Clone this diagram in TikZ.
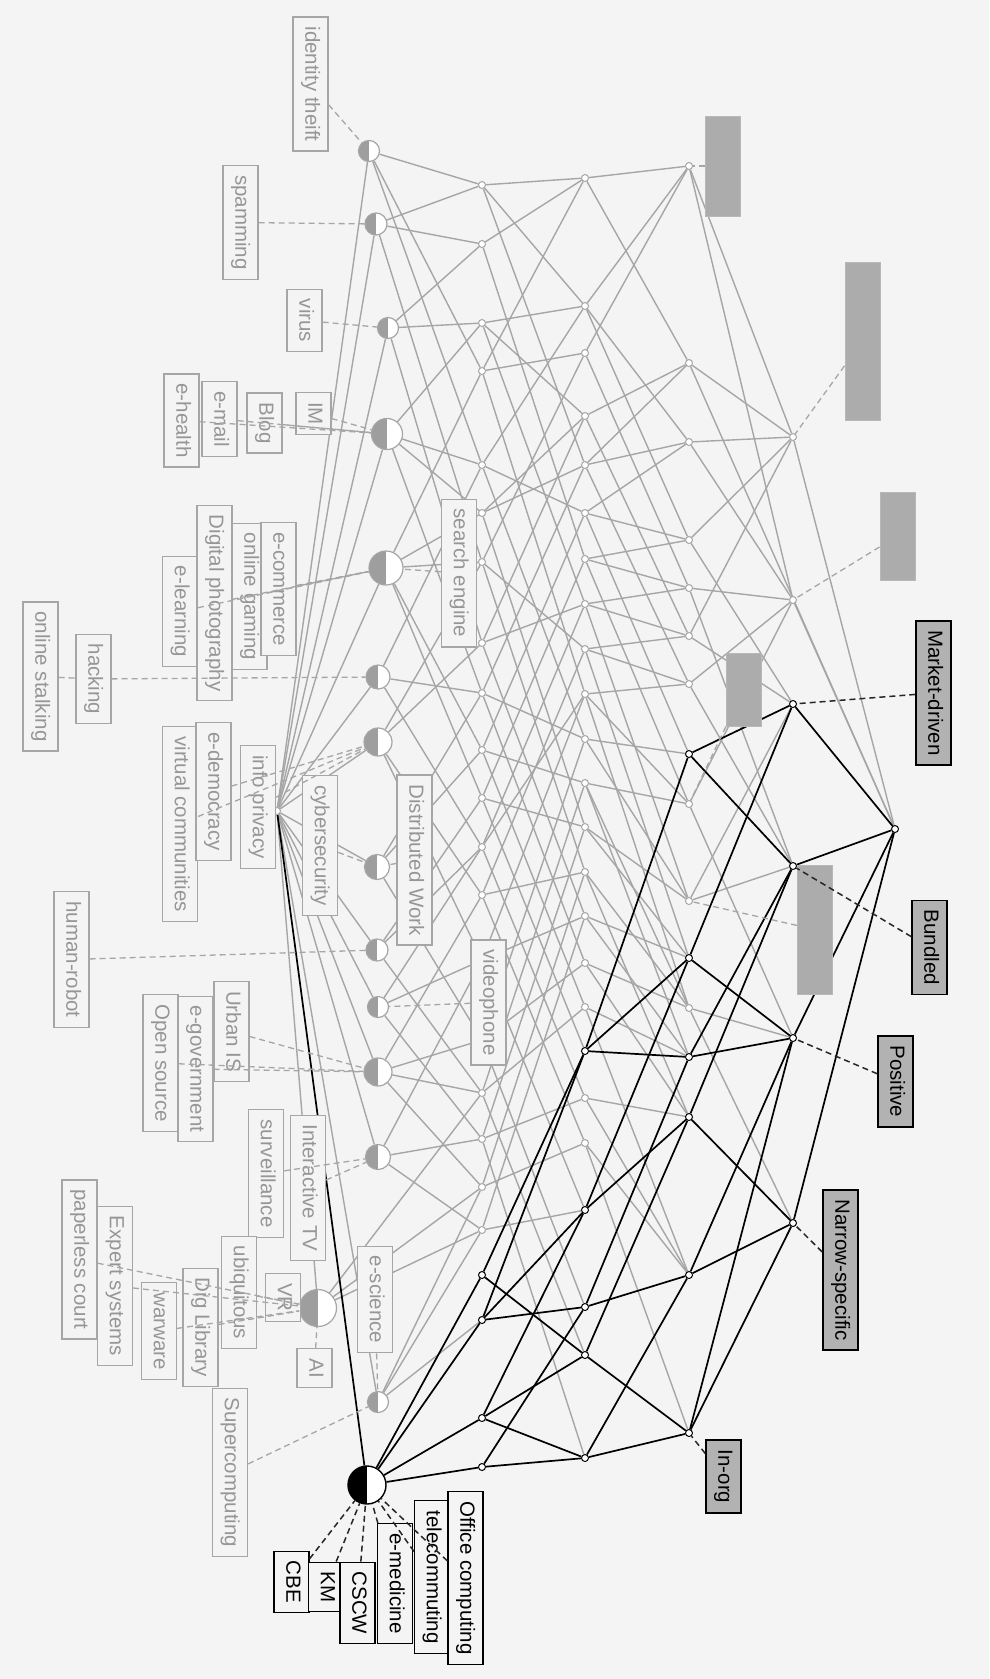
\documentclass[tikz,border=0pt]{standalone}
\usepackage{fontspec}
\newfontfamily\lfont{Liberation Sans}
\definecolor{bgc}{RGB}{244,244,244}
\definecolor{lg}{RGB}{166,166,166}
\definecolor{lt}{RGB}{150,150,150}
\definecolor{hc}{RGB}{158,158,158}
\definecolor{gbox}{RGB}{172,172,172}
\definecolor{abox}{RGB}{178,178,178}
\pgfdeclarelayer{bgl}
\pgfdeclarelayer{edges}
\pgfdeclarelayer{dash}
\pgfsetlayers{bgl,edges,main,dash}
\tikzset{
  sn/.style={circle, draw=lg, fill=white, inner sep=0pt, minimum size=7pt, line width=1pt},
  bn/.style={sn, draw=black},
  hcirc/.style={circle, draw=lg, fill=white, inner sep=0pt, line width=1.2pt,
    path picture={\fill[hc] (path picture bounding box.north west) rectangle (path picture bounding box.south);}},
  hblack/.style={circle, draw=black, fill=white, inner sep=0pt, line width=1.4pt,
    path picture={\fill[black] (path picture bounding box.north west) rectangle (path picture bounding box.south);}},
  glab/.style={draw=lg, fill=bgc, text=lt, rotate=-90, font=\lfont\fontsize{20.5pt}{24pt}\selectfont,
    inner xsep=9.5pt, inner ysep=0pt, text height=15pt, text depth=4.5pt, minimum height=35pt, line width=1.2pt},
  blab/.style={glab, draw=black, text=black},
  alab/.style={blab, fill=abox, line width=1.5pt},
  gattr/.style={draw=gbox!85!white, fill=gbox, rotate=-90, minimum height=35pt, inner sep=0pt, line width=1pt},
  ge/.style={draw=lg, line width=1.4pt},
  be/.style={draw=black, line width=1.7pt},
  gdash/.style={draw=lg, line width=1.3pt, dash pattern=on 6pt off 4pt},
  bdash/.style={draw=black!85, line width=1.5pt, dash pattern=on 6pt off 4pt}
}
\begin{document}
\begin{tikzpicture}[x=1pt,y=-1pt]
\useasboundingbox (0,0) rectangle (989,1679);
\begin{pgfonlayer}{bgl}
\fill[bgc] (0,0) rectangle (989,1679);
\end{pgfonlayer}
% object concepts
\node[sn] (T) at (277,811) {};
\node[hcirc, minimum size=21pt] (o1) at (369,151) {};
\node[hcirc, minimum size=22pt] (o2) at (376,224) {};
\node[hcirc, minimum size=21pt] (o3) at (388,328) {};
\node[hcirc, minimum size=31pt] (o4) at (387,434) {};
\node[hcirc, minimum size=34pt] (o5) at (386,568) {};
\node[hcirc, minimum size=24pt] (o6) at (378,677) {};
\node[hcirc, minimum size=28pt] (o7) at (378,742) {};
\node[hcirc, minimum size=25pt] (o8) at (377,867) {};
\node[hcirc, minimum size=22pt] (o9) at (377,950) {};
\node[hcirc, minimum size=21pt] (o10) at (378,1007) {};
\node[hcirc, minimum size=28pt] (o11) at (378,1072) {};
\node[hcirc, minimum size=25pt] (o12) at (378,1157) {};
\node[hcirc, minimum size=37pt] (o13) at (318,1308) {};
\node[hcirc, minimum size=21pt] (o14) at (378,1402) {};
\node[hblack, minimum size=38pt] (C) at (367,1485) {};
% layers
\foreach \y in {185,244,323,371,465,513,562,643,693,750,798,847,895,960,1040,1093,1139,1187,1230}
  \node[sn] (p\y) at (482,\y) {};
\foreach \y in {1275,1320,1418,1467}
  \node[bn] (a\y) at (482,\y) {};
\foreach \y in {178,306,353,416,465,513,559,604,649,694,739,783,827,872,916,963,1007,1098,1143}
  \node[sn] (q\y) at (585,\y) {};
\foreach \y in {1051,1210,1307,1355,1458}
  \node[bn] (b\y) at (585,\y) {};
\foreach \y in {166,363,442,540,588,636,684,804,901,1008}
  \node[sn] (r\y) at (689,\y) {};
\foreach \y in {754,958,1057,1117,1275,1433}
  \node[bn] (c\y) at (689,\y) {};
\foreach \y in {437,600}
  \node[sn] (s\y) at (793,\y) {};
\foreach \y in {704,866,1038,1223}
  \node[bn] (d\y) at (793,\y) {};
\node[bn] (e829) at (895,829) {};
% edges
\begin{pgfonlayer}{edges}
\foreach \a/\b in {T/o1,T/o2,T/o3,T/o4,T/o5,T/o6,T/o7,T/o8,T/o9,T/o10,T/o11,T/o12,T/o13,T/o14,
 o1/p185,o1/p371,o1/p465, o2/p185,o2/p244,o2/p562, o3/p244,o3/p323,o3/p643,
 o4/p323,o4/p465,o4/p513,o4/p693, o5/p371,o5/p513,o5/p562,o5/p750,o5/p798,
 o6/p465,o6/p693,o6/p847, o7/p562,o7/p643,o7/p895,o7/p960, o8/p693,o8/p750,o8/p1040,
 o9/p798,o9/p847,o9/p1093, o10/p847,o10/p960,o10/p1139, o11/p895,o11/p1040,o11/p1093,o11/p1187,
 o12/p960,o12/p1139,o12/p1230, o13/p1093,o13/p1187,o13/p1230, o14/p1187,o14/p1230,o14/a1320,
 p185/q178,p185/q306,p185/q465, p244/q178,p244/q559, p323/q306,p323/q416,p323/q604,
 p371/q178,p371/q353,p371/q694, p465/q306,p465/q513,p465/q739, p513/q416,p513/q465,p513/q827,
 p562/q353,p562/q649,p562/q872, p643/q416,p643/q604,p643/q916, p693/q465,p693/q739,p693/q963,
 p750/q513,p750/q783,p750/q1007, p798/q559,p798/q827,p798/b1051, p847/q604,p847/q694,p847/q1098,
 p895/q649,p895/q872,p895/q1143, p960/q694,p960/q916,p960/b1210, p1040/q739,p1040/q963,p1040/b1307,
 p1093/q783,p1093/q1007,p1093/b1355, p1139/q827,p1139/q1098,p1139/b1458, p1187/q872,p1187/q1143,
 p1230/q916,p1230/b1210,
 q178/r166,q178/r363, q306/r166,q306/r442,q306/r540, q353/r166,q353/r588, q416/r363,q416/r636,
 q465/r363,q465/r442,q465/r684, q513/r442,q513/r540,q513/c754, q559/r540,q559/r588,q559/r804,
 q604/r588,q604/r636,q604/r901, q649/r636,q649/r684,q649/c958, q694/r684,q694/r804,q694/r1008,
 q739/c754,q739/r901, q783/r804,q783/r1008,q783/c1057, q827/r901,q827/c958, q872/r1008,q872/c1117,
 q916/c958,q916/c1057, q963/r1008,q963/c1117, q1007/c1057,q1007/c1275, q1098/c1117,q1098/c1275,
 q1143/c1275,q1143/c1433,
 r166/s437,r166/s600, r363/s437,r363/e829, r442/s437,r442/s600, r540/s437,r540/d704,
 r588/s600,r588/d866, r636/s437,r636/d704, r684/s600,r684/d866, r804/s600,r804/d1038,
 r901/d704,r901/d866, r1008/d1038,r1008/d1223, s437/e829,s600/e829}
  \draw[ge] (\a) -- (\b);
\foreach \a/\b in {C/T,C/a1275,C/a1320,C/a1418,C/a1467,
 a1275/b1051,a1275/b1355, a1320/b1210,a1320/b1307,a1320/b1051,
 a1418/b1355,a1418/b1458,a1418/b1210, a1467/b1458,a1467/b1307,
 b1051/c754,b1051/c958,b1051/c1057, b1210/c958,b1210/c1117, b1307/c1275,b1307/c1057,
 b1355/c1433,b1355/c1117, b1458/c1433,b1458/c1275,
 c754/d704,c754/d866, c958/d704,c958/d1038, c1057/d1038,c1057/d866, c1117/d1223,c1117/d866,
 c1275/d1223,c1275/d1038, c1433/d1223,c1433/d1038,
 d704/e829,d866/e829,d1038/e829,d1223/e829}
  \draw[be] (\a) -- (\b);
\end{pgfonlayer}
% object labels
\node[glab] (Lid) at (310.5,84) {identity theift};
\node[glab] (Lspam) at (240.5,222.5) {spamming};
\node[glab] (Lvirus) at (304.5,320.5) {virus};
\node[glab] (Lhealth) at (181.5,420.5) {e-health};
\node[glab] (Lmail) at (219.5,419) {e-mail};
\node[glab] (Lblog) at (264.5,423) {Blog};
\node[glab] (LIM) at (313.5,413.5) {IM};
\node[glab] (Llearn) at (180,611.5) {e-learning};
\node[glab] (Lphoto) at (214.5,603) {Digital photography};
\node[glab] (Lgame) at (249.5,596.5) {online gaming};
\node[glab] (Lecom) at (278.5,589) {e-commerce};
\node[glab] (Lhack) at (93.5,679) {hacking};
\node[glab] (Lstalk) at (40.5,676.5) {online stalking};
\node[glab] (Lvirt) at (180,824) {virtual communities};
\node[glab] (Ldemo) at (213.5,791.5) {e-democracy};
\node[glab] (Lpriv) at (258,807) {info privacy};
\node[glab] (Lcyber) at (320,845.5) {cybersecurity};
\node[glab] (Ldist) at (414.5,860) {Distributed Work};
\node[glab] (Lsearch) at (459,573) {search engine};
\node[glab] (Lrobot) at (71.5,959.5) {human-robot};
\node[glab] (Lvideo) at (488.5,1002.5) {videophone};
\node[glab] (Lopen) at (160.5,1063) {Open source};
\node[glab] (Legov) at (195.5,1069) {e-government};
\node[glab] (Lurban) at (231.5,1031.5) {Urban IS};
\node[glab] (Lsurv) at (266,1173.5) {surveillance};
\node[glab] (Litv) at (308,1188) {Interactive TV};
\node[glab] (Lesci) at (375,1299.5) {e-science};
\node[glab] (Lpaper) at (79.5,1259.5) {paperless court};
\node[glab] (Lexp) at (115,1286) {Expert systems};
\node[glab] (Lwar) at (159,1331) {warware};
\node[glab] (Ldig) at (200.5,1327.5) {Dig Library};
\node[glab] (Lubiq) at (239,1292.5) {ubiquitous};
\node[glab] (LVR) at (283,1297.5) {VR};
\node[glab] (LAI) at (314.5,1368) {AI};
\node[glab] (Lsuper) at (230,1472.5) {Supercomputing};
\node[blab] (LCBE) at (291.5,1582) {CBE};
\node[blab] (LKM) at (326,1587) {KM};
\node[blab] (LCSCW) at (357.5,1603) {CSCW};
\node[blab] (Lemed) at (395,1583.5) {e-medicine};
\node[blab] (Ltele) at (432,1577) {telecommuting};
\node[blab] (Loffice) at (465.5,1578) {Office computing};
% attribute labels
\node[gattr, minimum width=100pt] (G1) at (723,166) {};
\node[gattr, minimum width=158pt] (G2) at (862.5,341) {};
\node[gattr, minimum width=88pt] (G3) at (897.5,536) {};
\node[gattr, minimum width=73pt] (G4) at (743.5,689.5) {};
\node[gattr, minimum width=129pt] (G5) at (815,929.5) {};
\node[alab] (Amarket) at (933.5,693) {Market-driven};
\node[alab] (Abund) at (929.5,947.5) {Bundled};
\node[alab] (Apos) at (895.5,1081.5) {Positive};
\node[alab] (Anarrow) at (840.5,1270) {Narrow-specific};
\node[alab] (Ainorg) at (723.5,1476.5) {In-org};
% dashed label links
\begin{pgfonlayer}{dash}
\foreach \a/\b in {Lid/o1,Lspam/o2,Lvirus/o3,LIM/o4,Lblog/o4,Lmail/o4,Lhealth/o4,
 Lecom/o5,Lgame/o5,Lphoto/o5,Llearn/o5,Lsearch/o5,Lhack/o6,Lstalk/Lhack,
 Lpriv/o7,Ldemo/o7,Lvirt/o7,Lcyber/o8,Ldist/o8,Lrobot/o9,Lvideo/o10,
 Lurban/o11,Legov/o11,Lopen/o11,Lsurv/o12,Litv/o12,
 LVR/o13,LAI/o13,Lubiq/o13,Ldig/o13,Lwar/o13,Lexp/o13,Lpaper/o13,Lesci/o14,Lsuper/o14,
 G1/r166,G2/s437,G3/s600,G4/r804,G5/r901}
  \draw[gdash] (\a) -- (\b);
\foreach \a/\b in {LCBE/C,LKM/C,LCSCW/C,Lemed/C,Ltele/C,Loffice/C,
 Amarket/d704,Abund/d866,Apos/d1038,Anarrow/d1223,Ainorg/c1433}
  \draw[bdash] (\a) -- (\b);
\end{pgfonlayer}
\end{tikzpicture}
\end{document}
